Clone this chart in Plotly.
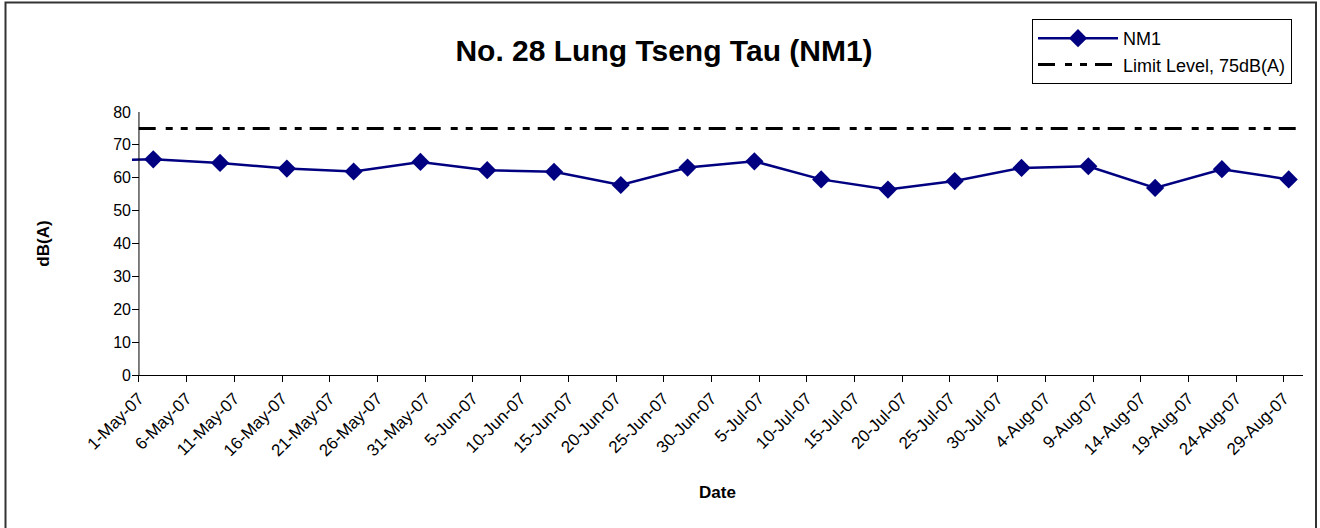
import pandas as pd
import plotly.graph_objects as go

# ---- data ----
dates = ["2007-04-25", "2007-05-02", "2007-05-09", "2007-05-16", "2007-05-23", "2007-05-30",
         "2007-06-06", "2007-06-13", "2007-06-20", "2007-06-27", "2007-07-04",
         "2007-07-11", "2007-07-18", "2007-07-25", "2007-08-01", "2007-08-08",
         "2007-08-15", "2007-08-22", "2007-08-29"]
nm1 = [65.3, 65.6, 64.5, 62.8, 61.9, 64.8, 62.3, 61.8, 57.8, 63.1, 65.0,
       59.5, 56.4, 59.0, 63.0, 63.5, 56.9, 62.6, 59.5]
limit_dates = ["2007-04-25", "2007-09-05"]
limit_vals = [75, 75]
y_ticks = [0, 10, 20, 30, 40, 50, 60, 70, 80]

title_text = "No. 28 Lung Tseng Tau (NM1)"
font_family = "Liberation Sans, Arial, sans-serif"

# points sit in the middle of each day (Excel date-axis behaviour)
x_pts = pd.to_datetime(dates) + pd.Timedelta(hours=12)
x_lim = pd.to_datetime(limit_dates)

x0 = pd.Timestamp("2007-05-01") - pd.Timedelta(hours=17.5)
x1 = pd.Timestamp("2007-08-31")

FW, FH = 1320, 528
L, R, T, B = 132, 1303, 112, 375
W, H = R - L, B - T


def px(p):
    return (p - L) / W


def py(p):
    return (B - p) / H


fig = go.Figure()
fig.add_trace(go.Scatter(
    x=x_pts, y=nm1, mode="lines+markers", name="NM1",
    line=dict(color="#000080", width=2.5),
    marker=dict(symbol="diamond", size=14, color="#000080"),
))
fig.add_trace(go.Scatter(
    x=x_lim, y=limit_vals, mode="lines", name="Limit Level, 75dB(A)",
    line=dict(color="black", width=3, dash="17px,10px,7px,8px,7px,8px"),
))

# y axis line drawn at 1-May
fig.add_shape(type="line", xref="x", yref="y",
              x0="2007-05-01", x1="2007-05-01", y0=0, y1=80,
              line=dict(color="black", width=1))
# outer chart border
fig.add_shape(type="rect", xref="paper", yref="paper",
              x0=px(5.5), x1=px(1316), y0=py(530), y1=py(2.5),
              line=dict(color="#333333", width=2))

fig.update_layout(
    width=FW, height=FH,
    margin=dict(l=L, r=FW - R, t=T, b=FH - B, autoexpand=False),
    paper_bgcolor="white", plot_bgcolor="white",
    font=dict(family=font_family, color="black", size=16),
    title=dict(text="<b>" + title_text + "</b>", x=664 / FW, xanchor="center",
               y=1 - 50 / FH, yanchor="middle", font=dict(size=30)),
    showlegend=True,
    legend=dict(x=px(1032), y=py(19), xanchor="left", yanchor="top",
                bordercolor="black", borderwidth=1, bgcolor="white",
                font=dict(size=18), itemwidth=80, tracegroupgap=0),
    xaxis=dict(
        type="date", range=[x0, x1], automargin=False,
        tick0="2007-05-01", dtick=5 * 86400000, tickformat="%-d-%b-%y",
        tickangle=-45, ticks="outside", ticklen=6, tickcolor="black",
        tickfont=dict(size=17),
        showline=True, linecolor="black", linewidth=1,
        showgrid=False, zeroline=False,
        title=dict(text="<b>Date</b>", font=dict(size=17), standoff=26),
    ),
    yaxis=dict(
        range=[0, 80], tickvals=y_ticks, ticks="inside", ticklen=7, tickcolor="black",
        automargin=False,
        showline=False, showgrid=False, zeroline=False,
        title=dict(text="<b>dB(A)</b>", font=dict(size=17), standoff=59),
        tickfont=dict(size=16),
    ),
)

fig.write_html("out.html", config={"displayModeBar": False},
               post_script="document.body.style.margin='0';document.body.style.overflow='hidden';")
